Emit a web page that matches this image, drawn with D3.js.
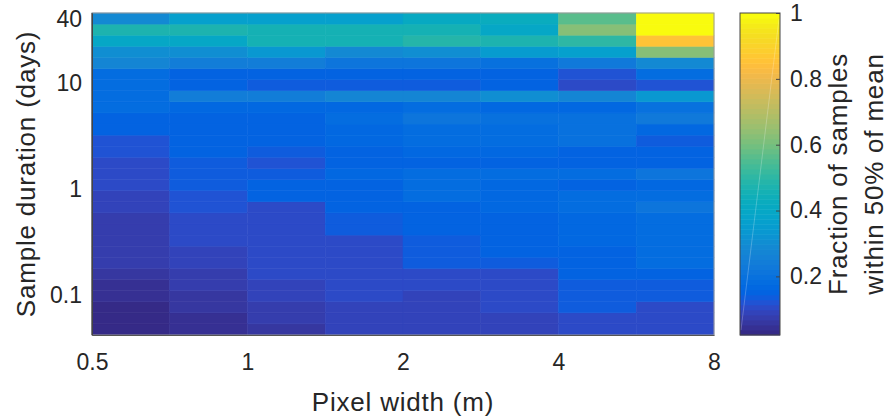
<!DOCTYPE html>
<html>
<head>
<meta charset="utf-8">
<script src="https://cdn.jsdelivr.net/npm/d3@7"></script>
<style>
  body { margin: 0; background: #fff; }
  svg text { font-family: "Liberation Sans", Arial, sans-serif; fill: #262626; }
  .label { font-size: 26px; letter-spacing: 0.8px; }
</style>
</head>
<body>
<svg id="chart" width="888" height="416"></svg>
<script>
// bin edges of the grid
const widthEdges = [0.5, 0.7071, 1, 1.4142, 2, 2.8284, 4, 5.6569, 8];            // pixel width (m)
const durationEdges = [0.0417, 0.0531, 0.0676, 0.0860, 0.1095, 0.1394, 0.1774, 0.2258,
  0.2874, 0.3660, 0.4659, 0.5930, 0.7551, 0.9612, 1.2236, 1.5573, 1.9829, 2.5240,
  3.2130, 4.0904, 5.2071, 6.6283, 8.4378, 10.742, 13.674, 17.406, 22.163, 28.211,
  35.914, 45.71];                                                                    // sample duration (days)

const xTicks = [0.5, 1, 2, 4, 8];
const yTicks = [0.1, 1, 10, 40];
const cbTicks = [0.2, 0.4, 0.6, 0.8, 1];

// fraction of samples within 50% of mean, one array per pixel width column,
// shortest duration first
const w050 = [.022,.022,.022,.038,.038,.066,.076,.076,.083,.083,.083,.095,.095,.11,.11,.11,.12,.12,.15,.15,.19,.19,.19,.19,.27,.30,.39,.48,.29];
const w071 = [.038,.038,.066,.066,.076,.076,.095,.095,.10,.10,.10,.118,.118,.14,.14,.13,.145,.145,.145,.155,.165,.24,.15,.15,.25,.31,.39,.48,.37];
const w100 = [.053,.082,.082,.085,.085,.11,.11,.107,.113,.113,.113,.113,.145,.145,.14,.12,.13,.145,.155,.155,.165,.24,.14,.15,.25,.33,.46,.46,.37];
const w141 = [.085,.085,.085,.10,.10,.10,.113,.113,.113,.13,.13,.155,.155,.155,.16,.145,.155,.17,.17,.18,.165,.27,.14,.15,.21,.29,.45,.46,.37];
const w200 = [.095,.095,.095,.095,.113,.113,.135,.135,.135,.145,.145,.155,.175,.175,.185,.155,.17,.19,.19,.22,.175,.27,.14,.15,.22,.31,.49,.45,.41];
const w283 = [.095,.095,.113,.113,.113,.113,.13,.145,.145,.145,.155,.165,.17,.17,.185,.155,.17,.19,.19,.20,.165,.31,.155,.145,.20,.35,.48,.39,.42];
const w400 = [.113,.113,.135,.135,.135,.15,.15,.15,.16,.16,.17,.18,.18,.155,.185,.145,.155,.20,.20,.20,.165,.27,.10,.12,.23,.37,.50,.63,.56];
const w566 = [.113,.113,.113,.13,.13,.155,.175,.175,.18,.18,.18,.21,.19,.165,.21,.155,.155,.13,.17,.235,.20,.33,.125,.18,.29,.63,.86,.99,1.0];

const columns = [w050, w071, w100, w141, w200, w283, w400, w566];

// parula colormap (64 entries)
const parula = [
  [0.2081,0.1663,0.5292],[0.2116,0.1898,0.5777],[0.2123,0.2138,0.6270],[0.2081,0.2386,0.6771],
  [0.1959,0.2645,0.7279],[0.1707,0.2919,0.7792],[0.1253,0.3242,0.8303],[0.0591,0.3598,0.8683],
  [0.0117,0.3875,0.8820],[0.0060,0.4086,0.8828],[0.0165,0.4266,0.8786],[0.0329,0.4430,0.8720],
  [0.0498,0.4586,0.8641],[0.0629,0.4737,0.8554],[0.0723,0.4887,0.8467],[0.0779,0.5040,0.8384],
  [0.0793,0.5200,0.8312],[0.0749,0.5375,0.8263],[0.0641,0.5570,0.8240],[0.0488,0.5772,0.8228],
  [0.0343,0.5966,0.8199],[0.0265,0.6137,0.8135],[0.0239,0.6287,0.8038],[0.0231,0.6418,0.7913],
  [0.0228,0.6535,0.7768],[0.0267,0.6642,0.7607],[0.0384,0.6743,0.7436],[0.0590,0.6838,0.7254],
  [0.0843,0.6928,0.7062],[0.1133,0.7015,0.6859],[0.1453,0.7098,0.6646],[0.1801,0.7177,0.6424],
  [0.2178,0.7250,0.6193],[0.2586,0.7317,0.5954],[0.3022,0.7376,0.5712],[0.3482,0.7424,0.5473],
  [0.3953,0.7459,0.5244],[0.4420,0.7481,0.5033],[0.4871,0.7491,0.4840],[0.5300,0.7491,0.4661],
  [0.5709,0.7485,0.4494],[0.6099,0.7473,0.4337],[0.6473,0.7456,0.4188],[0.6834,0.7435,0.4044],
  [0.7184,0.7411,0.3905],[0.7525,0.7384,0.3768],[0.7858,0.7356,0.3633],[0.8185,0.7327,0.3498],
  [0.8507,0.7299,0.3360],[0.8824,0.7274,0.3217],[0.9139,0.7258,0.3063],[0.9450,0.7261,0.2886],
  [0.9739,0.7314,0.2666],[0.9938,0.7455,0.2403],[0.9990,0.7653,0.2164],[0.9955,0.7861,0.1967],
  [0.9880,0.8066,0.1794],[0.9789,0.8271,0.1633],[0.9697,0.8481,0.1475],[0.9626,0.8705,0.1309],
  [0.9589,0.8949,0.1132],[0.9598,0.9218,0.0948],[0.9661,0.9514,0.0755],[0.9763,0.9831,0.0538]
].map(c => d3.rgb(c[0] * 255, c[1] * 255, c[2] * 255).formatHex());

const margin = {left: 92, right: 714, top: 13, bottom: 335};
const cbLeft = 740, cbRight = 780;
const cmin = 0.022, cmax = 1;

const svg = d3.select("#chart");

const x = d3.scaleLog().base(2)
  .domain([widthEdges[0], widthEdges[widthEdges.length - 1]])
  .range([margin.left, margin.right]);

const y = d3.scaleLog()
  .domain([durationEdges[0], durationEdges[durationEdges.length - 1]])
  .range([margin.bottom, margin.top]);

const color = d3.scaleQuantize().domain([cmin, cmax]).range(parula);

// flatten the grid into cells
const cells = [];
columns.forEach((col, c) => {
  col.forEach((v, r) => {
    cells.push({c: c, r: r, v: v});
  });
});

svg.append("g")
  .selectAll("rect")
  .data(cells)
  .join("rect")
  .attr("x", d => x(widthEdges[d.c]))
  .attr("y", d => y(durationEdges[d.r + 1]))
  .attr("width", d => x(widthEdges[d.c + 1]) - x(widthEdges[d.c]))
  .attr("height", d => y(durationEdges[d.r]) - y(durationEdges[d.r + 1]))
  .attr("fill", d => color(d.v))
  .attr("stroke", d => color(d.v))
  .attr("stroke-width", 0.5);

// box
svg.append("rect")
  .attr("x", margin.left).attr("y", margin.top)
  .attr("width", margin.right - margin.left).attr("height", margin.bottom - margin.top)
  .attr("fill", "none").attr("stroke", "#9a9a9a").attr("stroke-width", 1);
svg.append("line")
  .attr("x1", margin.left).attr("x2", margin.left)
  .attr("y1", margin.top).attr("y2", margin.bottom)
  .attr("stroke", "#444");

// X axis
const xAxis = d3.axisBottom(x)
  .tickValues(xTicks)
  .tickFormat(d3.format("~g"))
  .tickSize(0)
  .tickPadding(19);
const gx = svg.append("g")
  .attr("transform", "translate(0," + margin.bottom + ")")
  .call(xAxis);
gx.select(".domain").attr("stroke", "#555");
gx.selectAll("text").style("font-size", "23px").style("fill", "#262626");

// Y axis
const yAxis = d3.axisLeft(y)
  .tickValues(yTicks)
  .tickFormat(d3.format("~g"))
  .tickSize(0)
  .tickPadding(10);
const gy = svg.append("g")
  .attr("transform", "translate(" + margin.left + ",0)")
  .call(yAxis);
gy.select(".domain").attr("stroke", "#444");
gy.selectAll("text").style("font-size", "23px").style("fill", "#262626");

// axis labels
svg.append("text")
  .attr("class", "label")
  .attr("x", (margin.left + margin.right) / 2)
  .attr("y", 411)
  .attr("text-anchor", "middle")
  .text("Pixel width (m)");

svg.append("text")
  .attr("class", "label")
  .attr("transform", "translate(35," + (margin.top + margin.bottom) / 2 + ") rotate(-90)")
  .attr("text-anchor", "middle")
  .text("Sample duration (days)");

// colorbar
const cb = d3.scaleLinear().domain([cmin, cmax]).range([margin.bottom, margin.top]);
const step = (cmax - cmin) / parula.length;
svg.append("g")
  .selectAll("rect")
  .data(parula)
  .join("rect")
  .attr("x", cbLeft)
  .attr("width", cbRight - cbLeft)
  .attr("y", (d, i) => cb(cmin + (i + 1) * step))
  .attr("height", cb(cmin) - cb(cmin + step) + 0.5)
  .attr("fill", d => d);

// faint rendering seam seen across the colorbar
svg.append("line")
  .attr("x1", cbLeft + 1).attr("y1", margin.bottom - 5)
  .attr("x2", cbRight - 1).attr("y2", margin.top + 6)
  .attr("stroke", "#fff").attr("stroke-opacity", 0.3).attr("stroke-width", 0.8);

svg.append("rect")
  .attr("x", cbLeft).attr("y", margin.top)
  .attr("width", cbRight - cbLeft).attr("height", margin.bottom - margin.top)
  .attr("fill", "none").attr("stroke", "#444").attr("stroke-width", 1);

const cbAxis = d3.axisRight(cb)
  .tickValues(cbTicks)
  .tickFormat(d3.format("~g"))
  .tickSizeInner(-4)
  .tickSizeOuter(0)
  .tickPadding(10);
const gcb = svg.append("g")
  .attr("transform", "translate(" + cbRight + ",0)")
  .call(cbAxis);
gcb.select(".domain").remove();
gcb.selectAll("line").attr("stroke", "#444");
gcb.selectAll("text").style("font-size", "23px").style("fill", "#262626");

// colorbar label (two lines)
const cbLabel = ["Fraction of samples", "within 50% of mean"];
svg.append("g")
  .selectAll("text")
  .data(cbLabel)
  .join("text")
  .attr("class", "label")
  .attr("transform", (d, i) => "translate(" + (847 + i * 36) + "," + (margin.top + margin.bottom) / 2 + ") rotate(-90)")
  .attr("text-anchor", "middle")
  .text(d => d);
</script>
</body>
</html>
